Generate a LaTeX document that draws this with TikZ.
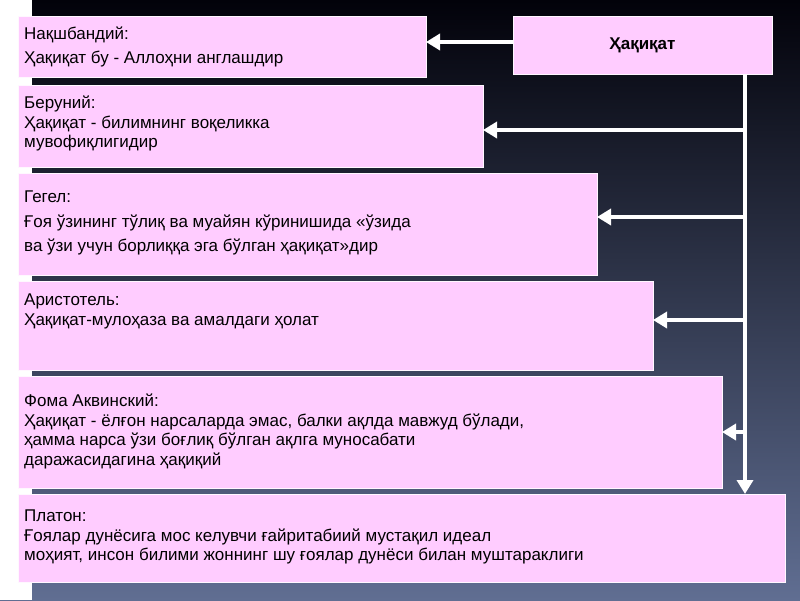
\documentclass[tikz,border=0pt]{standalone}
\usepackage{fontspec}
\setmainfont{Liberation Sans}
\usetikzlibrary{arrows.meta}
\definecolor{pinkbox}{HTML}{FFCCFF}
\definecolor{bgtop}{HTML}{02020A}
\definecolor{bgbot}{HTML}{606E92}
\begin{document}
\begin{tikzpicture}[x=1pt,y=-1pt,
  box/.style={draw=white!85!pinkbox,line width=1pt,fill=pinkbox,inner sep=0pt,outer sep=0pt},
  txt/.style={anchor=north west,align=left,font=\fontsize{17}{19.5}\selectfont,inner sep=0pt},
  conn/.style={white,line width=4pt,-{Triangle[width=16pt,length=14pt]}}]
\useasboundingbox (0,0) rectangle (800,600);
\shade[top color=bgtop,bottom color=bgbot] (0,0) rectangle (800,600);
\fill[white] (0,0) rectangle (32,600);
\node[box,minimum width=408pt,minimum height=61pt,anchor=north west] (n) at (18,16) {};
\node[box,minimum width=259pt,minimum height=58pt,anchor=north west] (h) at (513,16) {};
\node[box,minimum width=465pt,minimum height=82pt,anchor=north west] (b) at (18,85) {};
\node[box,minimum width=579pt,minimum height=102pt,anchor=north west] (g) at (18,173) {};
\node[box,minimum width=635pt,minimum height=89pt,anchor=north west] (a) at (18,281) {};
\node[box,minimum width=704pt,minimum height=112pt,anchor=north west] (f) at (18,376) {};
\node[box,minimum width=767pt,minimum height=88pt,anchor=north west] (p) at (18,494) {};
\node[font=\fontsize{17}{20}\selectfont\bfseries] (ht) at (h.center) {Ҳақиқат};
\node[txt] (nt) at (24,27) {Нақшбандий:\\[4pt]Ҳақиқат бу - Аллоҳни англашдир};
\node[txt] (bt) at (24,96) {Беруний:\\Ҳақиқат - билимнинг воқеликка\\мувофиқлигидир};
\node[txt] (gt) at (24,191) {Гегел:\\[5pt]Ғоя ўзининг тўлиқ ва муайян кўринишида «ўзида\\[5pt]ва ўзи учун борлиққа эга бўлган ҳақиқат»дир};
\node[txt] (at) at (24,294) {Аристотель:\\Ҳақиқат-мулоҳаза ва амалдаги ҳолат};
\node[txt] (ft) at (24,394) {Фома Аквинский:\\Ҳақиқат - ёлғон нарсаларда эмас, балки ақлда мавжуд бўлади,\\ҳамма нарса ўзи боғлиқ бўлган ақлга муносабати\\даражасидагина ҳақиқий};
\node[txt] (pt) at (24,510) {Платон:\\Ғоялар дунёсига мос келувчи ғайритабиий мустақил идеал\\моҳият, инсон билими жоннинг шу ғоялар дунёси билан муштараклиги};
\coordinate (top) at (745,74);
\coordinate (cb) at (745,130);
\coordinate (cg) at (745,217);
\coordinate (ca) at (745,320);
\coordinate (cf) at (745,432);
\draw[conn] (h.west |- 0,42) -- (n.east |- 0,42);
\draw[conn] (top) -- (p.north -| top);
\draw[conn] (cb) -- (b.east |- cb);
\draw[conn] (cg) -- (g.east |- cg);
\draw[conn] (ca) -- (a.east |- ca);
\draw[conn] (cf) -- (f.east |- cf);
\end{tikzpicture}
\end{document}
